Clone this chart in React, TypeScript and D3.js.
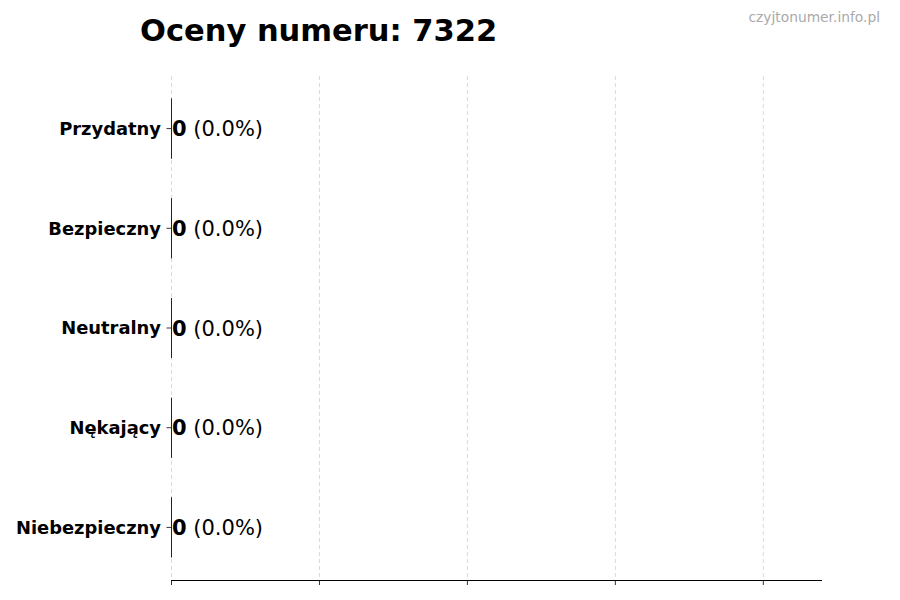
import { useEffect, useRef } from "react";
import * as d3 from "d3";

const categories = ["Przydatny", "Bezpieczny", "Neutralny", "Nękający", "Niebezpieczny"];
const counts = [0, 0, 0, 0, 0];
const percents = [0.0, 0.0, 0.0, 0.0, 0.0];
const xTicks = [0, 1, 2, 3, 4];
const xMax = 4.4;
const title = "Oceny numeru: 7322";
const watermark = "czyjtonumer.info.pl";

const W = 900;
const H = 600;
const margin = { top: 76, right: 78, bottom: 20, left: 171 };

export default function App() {
  const svgRef = useRef<SVGSVGElement | null>(null);

  useEffect(() => {
    if (!svgRef.current) return;
    const svg = d3.select(svgRef.current);
    svg.selectAll("*").remove();

    const font = "'DejaVu Sans', sans-serif";
    const x = d3.scaleLinear().domain([0, xMax]).range([margin.left, W - margin.right]);
    const y = d3
      .scaleBand<string>()
      .domain(categories)
      .range([margin.top, H - margin.bottom])
      .paddingInner(0.4)
      .paddingOuter(0.2275);

    // grid
    svg
      .append("g")
      .selectAll("line")
      .data(xTicks)
      .join("line")
      .attr("x1", (d) => x(d) + 0.5)
      .attr("x2", (d) => x(d) + 0.5)
      .attr("y1", margin.top)
      .attr("y2", H - margin.bottom)
      .attr("stroke", "#d0d0d0")
      .attr("stroke-width", 0.8)
      .attr("stroke-dasharray", "4,3");

    // bars (zero width, edge only)
    svg
      .append("g")
      .selectAll("path")
      .data(categories)
      .join("path")
      .attr("d", (d, i) => {
        const x0 = x(0) + 0.5;
        const x1 = x(counts[i]) + 0.5;
        const y0 = y(d)!;
        const y1 = y0 + y.bandwidth();
        return `M${x0},${y0}V${y1}H${x1}V${y0}Z`;
      })
      .attr("fill", "#4c72b0")
      .attr("stroke", "#222")
      .attr("stroke-width", 1);

    // y ticks + labels
    const yg = svg.append("g");
    categories.forEach((c) => {
      const cy = y(c)! + y.bandwidth() / 2;
      yg.append("line")
        .attr("x1", margin.left - 4.5)
        .attr("x2", margin.left)
        .attr("y1", cy)
        .attr("y2", cy)
        .attr("stroke", "#000")
        .attr("stroke-width", 0.8);
      yg.append("text")
        .attr("x", margin.left - 10)
        .attr("y", cy)
        .attr("dy", "0.36em")
        .attr("text-anchor", "end")
        .attr("font-family", font)
        .attr("font-weight", "bold")
        .attr("font-size", 17.9)
        .text(c);
    });

    // value labels
    categories.forEach((c, i) => {
      const cy = y(c)! + y.bandwidth() / 2;
      const t = svg
        .append("text")
        .attr("x", x(counts[i]) + 1)
        .attr("y", cy)
        .attr("dy", "0.36em")
        .attr("font-family", font)
        .attr("font-size", 21);
      t.append("tspan").attr("font-weight", "bold").text(String(counts[i]));
      t.append("tspan").text(` (${percents[i].toFixed(1)}%)`);
    });

    // x axis
    const xg = svg.append("g");
    xg.append("line")
      .attr("x1", margin.left)
      .attr("x2", W - margin.right)
      .attr("y1", H - margin.bottom + 0.5)
      .attr("y2", H - margin.bottom + 0.5)
      .attr("stroke", "#000")
      .attr("stroke-width", 1);
    xg.selectAll("line.tick")
      .data(xTicks)
      .join("line")
      .attr("class", "tick")
      .attr("x1", (d) => x(d) + 0.5)
      .attr("x2", (d) => x(d) + 0.5)
      .attr("y1", H - margin.bottom)
      .attr("y2", H - margin.bottom + 5)
      .attr("stroke", "#000")
      .attr("stroke-width", 0.8);

    // title
    svg
      .append("text")
      .attr("x", 140)
      .attr("y", 41)
      .attr("font-family", font)
      .attr("font-weight", "bold")
      .attr("font-size", 30.5)
      .text(title);

    // watermark
    svg
      .append("text")
      .attr("x", 880)
      .attr("y", 22)
      .attr("text-anchor", "end")
      .attr("font-family", font)
      .attr("font-size", 13.8)
      .attr("fill", "#aaaaaa")
      .text(watermark);
  }, []);

  return (
    <svg
      ref={svgRef}
      width={W}
      height={H}
      viewBox={`0 0 ${W} ${H}`}
      style={{ position: "absolute", left: 0, top: 0, background: "#fff" }}
    />
  );
}
